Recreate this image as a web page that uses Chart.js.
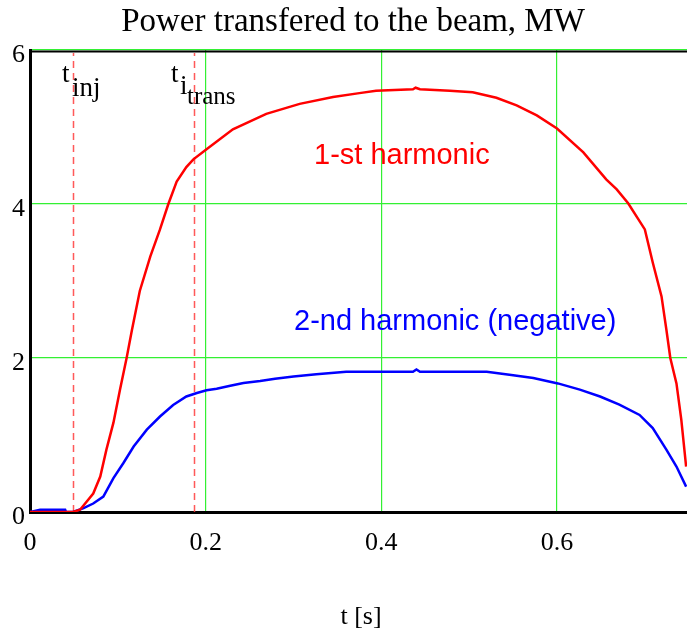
<!DOCTYPE html>
<html>
<head>
<meta charset="utf-8">
<script src="https://cdn.jsdelivr.net/npm/chart.js@4"></script>
<style>
  html, body { margin: 0; padding: 0; background: #fff; }
  #wrap { width: 687px; height: 635px; }
</style>
</head>
<body>
<div id="wrap"><canvas id="powerChart" width="687" height="635"></canvas></div>
<script>
// time axis, s
const tFirst = [0, 0.049, 0.057, 0.072, 0.080, 0.087, 0.095, 0.1025, 0.110, 0.116, 0.125, 0.137, 0.148, 0.1575, 0.167,
  0.178, 0.186, 0.201, 0.231, 0.269, 0.307, 0.345, 0.375, 0.394, 0.436, 0.439, 0.444, 0.478, 0.504, 0.531,
  0.554, 0.577, 0.600, 0.630, 0.656, 0.668, 0.681, 0.700, 0.709, 0.719, 0.7245, 0.729, 0.736, 0.7415, 0.747];
// 1-st harmonic, MW
const pFirst = [0, 0, 0.03, 0.24, 0.46, 0.81, 1.16, 1.59, 2.0, 2.36, 2.87, 3.32, 3.67, 4.0, 4.29,
  4.48, 4.58, 4.71, 4.97, 5.17, 5.30, 5.39, 5.44, 5.47, 5.49, 5.51, 5.49, 5.47, 5.45, 5.38,
  5.28, 5.15, 4.98, 4.67, 4.32, 4.19, 4.01, 3.67, 3.24, 2.80, 2.37, 2.0, 1.67, 1.20, 0.59];

const tSecond = [0, 0.0115, 0.040, 0.041, 0.049, 0.061, 0.072, 0.0835, 0.095, 0.106, 0.118, 0.133, 0.148, 0.163,
  0.178, 0.190, 0.201, 0.2125, 0.228, 0.243, 0.262, 0.279, 0.300, 0.326, 0.360, 0.400, 0.436, 0.440, 0.444,
  0.520, 0.548, 0.573, 0.601, 0.626, 0.649, 0.671, 0.694, 0.709, 0.7245, 0.736, 0.747];
// 2-nd harmonic (negative), MW
const pSecond = [0, 0.03, 0.03, 0, 0, 0.05, 0.11, 0.20, 0.44, 0.63, 0.85, 1.07, 1.24, 1.39,
  1.50, 1.545, 1.58, 1.60, 1.64, 1.675, 1.70, 1.73, 1.76, 1.79, 1.82, 1.82, 1.82, 1.85, 1.82,
  1.82, 1.78, 1.74, 1.67, 1.59, 1.50, 1.395, 1.26, 1.09, 0.81, 0.59, 0.33];

const xTicks = [0, 0.2, 0.4, 0.6];
const yTicks = [0, 2, 4, 6];
const tInj = 0.0494;
const tTrans = 0.187;

const serif = '"Liberation Serif", "Times New Roman", serif';
const sans = '"Liberation Sans", Arial, sans-serif';

const extras = {
  id: 'extras',
  beforeDatasetsDraw(chart) {
    const { ctx, chartArea: a, scales: { x, y } } = chart;
    ctx.save();
    // top frame
    ctx.strokeStyle = '#000';
    ctx.lineWidth = 2;
    ctx.beginPath();
    ctx.moveTo(a.left, a.top + 1.5);
    ctx.lineTo(a.right, a.top + 1.5);
    ctx.stroke();
    // injection / transition markers
    ctx.strokeStyle = 'rgba(255,60,60,0.85)';
    ctx.lineWidth = 1.5;
    ctx.setLineDash([7, 5]);
    [tInj, tTrans].forEach(t => {
      const px = Math.round(x.getPixelForValue(t)) + 0.5;
      ctx.beginPath();
      ctx.moveTo(px, y.getPixelForValue(0));
      ctx.lineTo(px, a.top + 3);
      ctx.stroke();
    });
    ctx.restore();
  },
  afterDraw(chart) {
    const { ctx } = chart;
    ctx.save();
    ctx.fillStyle = '#000';
    ctx.textBaseline = 'alphabetic';

    ctx.textAlign = 'center';
    ctx.font = '33px ' + serif;
    ctx.fillText('Power transfered to the beam, MW', 353, 31);
    ctx.font = '26px ' + serif;
    ctx.fillText('t [s]', 361, 624);

    ctx.textAlign = 'left';
    ctx.font = '27px ' + serif;
    ctx.fillText('t', 62, 82);
    ctx.fillText('inj', 72, 96);
    ctx.fillText('t', 171, 82);
    ctx.fillText('i', 180, 94);
    ctx.font = '25px ' + serif;
    ctx.fillText('trans', 187, 104);

    ctx.font = '29px ' + sans;
    ctx.fillStyle = '#ff0000';
    ctx.fillText('1-st harmonic', 314, 164);
    ctx.fillStyle = '#0000ff';
    ctx.fillText('2-nd harmonic (negative)', 294, 330);
    ctx.restore();
  }
};

new Chart(document.getElementById('powerChart'), {
  type: 'line',
  data: {
    datasets: [
      {
        label: '1-st harmonic',
        data: tFirst.map((t, i) => ({ x: t, y: pFirst[i] })),
        borderColor: '#ff0000',
        borderWidth: 2.5,
        pointRadius: 0,
        tension: 0
      },
      {
        label: '2-nd harmonic (negative)',
        data: tSecond.map((t, i) => ({ x: t, y: pSecond[i] })),
        borderColor: '#0000ff',
        borderWidth: 2.5,
        pointRadius: 0,
        tension: 0
      }
    ]
  },
  options: {
    responsive: false,
    animation: false,
    devicePixelRatio: 1,
    layout: { padding: { top: 50, right: 0, left: 0, bottom: 0 } },
    plugins: {
      legend: { display: false },
      title: { display: false },
      tooltip: { enabled: false }
    },
    scales: {
      x: {
        type: 'linear',
        min: 0,
        max: 0.748,
        afterFit: s => { s.height = 123; },
        afterBuildTicks: s => { s.ticks = xTicks.map(v => ({ value: v })); },
        grid: { color: '#33f033', lineWidth: 1.2, drawTicks: false },
        border: { color: '#000', width: 3 },
        ticks: { color: '#000', font: { family: serif, size: 26 }, padding: 16, maxRotation: 0 }
      },
      y: {
        min: 0,
        max: 6,
        afterFit: s => { s.width = 30; },
        afterBuildTicks: s => { s.ticks = yTicks.map(v => ({ value: v })); },
        grid: { color: '#33f033', lineWidth: 1.2, drawTicks: false },
        border: { color: '#000', width: 3 },
        ticks: { color: '#000', font: { family: serif, size: 26 }, padding: 5, labelOffset: 5 }
      }
    }
  },
  plugins: [extras]
});
</script>
</body>
</html>
